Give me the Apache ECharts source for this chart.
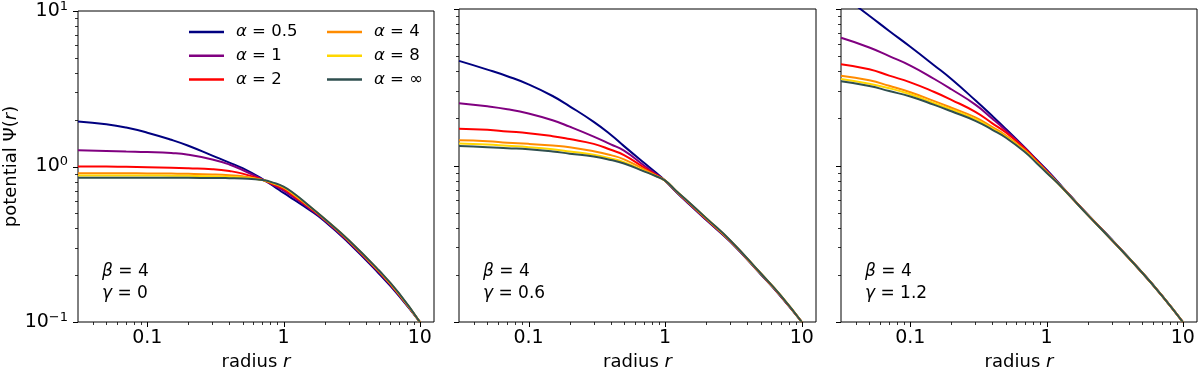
<!DOCTYPE html>
<html>
<head>
<meta charset="utf-8">
<style>
  body, html { margin: 0; background: #fff; }
  #main { width: 1200px; height: 376px; }
</style>
<script src="https://cdn.jsdelivr.net/npm/echarts@6/dist/echarts.min.js"></script>
</head>
<body>
<div id="main"></div>
<script>
// radius grid the curves were read at
const radius = [0.031, 0.05, 0.07, 0.1, 0.15, 0.2, 0.3, 0.4, 0.5, 0.7, 0.85, 1, 1.2, 1.5, 2, 3, 5, 7, 10];

const alphaNames = ['α = 0.5', 'α = 1', 'α = 2', 'α = 4', 'α = 8', 'α = ∞'];
const gammaValues = ['0', '0.6', '1.2'];

// potential Psi(r), one row per alpha (0.5, 1, 2, 4, 8, inf)
const psiGamma0 = [
  [1.95, 1.87, 1.78, 1.65, 1.485, 1.36, 1.175, 1.06, 0.975, 0.83, 0.745, 0.676, 0.61, 0.536, 0.445, 0.323, 0.205, 0.148, 0.1],
  [1.27, 1.26, 1.25, 1.24, 1.22, 1.19, 1.11, 1.03, 0.95, 0.825, 0.755, 0.70, 0.628, 0.548, 0.452, 0.328, 0.209, 0.15, 0.1],
  [1.0, 1.0, 0.995, 0.99, 0.983, 0.975, 0.96, 0.935, 0.9, 0.82, 0.765, 0.718, 0.643, 0.557, 0.456, 0.332, 0.211, 0.151, 0.1],
  [0.906, 0.905, 0.904, 0.903, 0.9, 0.897, 0.889, 0.879, 0.865, 0.818, 0.775, 0.731, 0.655, 0.564, 0.459, 0.335, 0.213, 0.152, 0.1],
  [0.875, 0.875, 0.875, 0.874, 0.873, 0.871, 0.866, 0.859, 0.85, 0.818, 0.78, 0.736, 0.662, 0.567, 0.46, 0.336, 0.214, 0.153, 0.1],
  [0.845, 0.845, 0.845, 0.845, 0.845, 0.845, 0.844, 0.841, 0.837, 0.818, 0.785, 0.742, 0.668, 0.57, 0.461, 0.337, 0.215, 0.154, 0.1]
];
const psiGamma06 = [
  [4.66, 4.1, 3.72, 3.3, 2.78, 2.39, 1.90, 1.573, 1.33, 1.04, 0.905, 0.80, 0.68, 0.565, 0.448, 0.325, 0.202, 0.146, 0.1],
  [2.50, 2.39, 2.29, 2.15, 1.945, 1.77, 1.53, 1.365, 1.245, 1.0, 0.885, 0.80, 0.683, 0.569, 0.452, 0.327, 0.203, 0.147, 0.1],
  [1.72, 1.69, 1.65, 1.61, 1.54, 1.475, 1.375, 1.26, 1.165, 0.97, 0.875, 0.80, 0.686, 0.573, 0.455, 0.329, 0.204, 0.147, 0.1],
  [1.45, 1.43, 1.40, 1.375, 1.34, 1.31, 1.235, 1.165, 1.095, 0.945, 0.865, 0.80, 0.688, 0.577, 0.458, 0.33, 0.204, 0.148, 0.1],
  [1.38, 1.36, 1.335, 1.31, 1.27, 1.23, 1.17, 1.11, 1.05, 0.925, 0.86, 0.80, 0.689, 0.579, 0.46, 0.331, 0.205, 0.148, 0.1],
  [1.33, 1.31, 1.29, 1.27, 1.23, 1.19, 1.14, 1.085, 1.03, 0.918, 0.857, 0.80, 0.69, 0.58, 0.461, 0.332, 0.205, 0.148, 0.1]
];
const psiGamma12 = [
  [12.4, 9.06, 7.24, 5.74, 4.36, 3.57, 2.61, 2.07, 1.72, 1.29, 1.085, 0.94, 0.79, 0.638, 0.487, 0.338, 0.208, 0.148, 0.1],
  [6.55, 5.68, 5.0, 4.35, 3.57, 3.07, 2.45, 1.99, 1.68, 1.28, 1.075, 0.93, 0.785, 0.636, 0.486, 0.336, 0.208, 0.148, 0.1],
  [4.44, 4.12, 3.75, 3.40, 2.95, 2.63, 2.20, 1.86, 1.63, 1.27, 1.07, 0.92, 0.78, 0.634, 0.485, 0.335, 0.208, 0.148, 0.1],
  [3.74, 3.50, 3.23, 2.94, 2.58, 2.34, 2.03, 1.76, 1.56, 1.24, 1.05, 0.91, 0.777, 0.633, 0.485, 0.335, 0.208, 0.148, 0.1],
  [3.57, 3.33, 3.12, 2.85, 2.50, 2.28, 1.98, 1.72, 1.53, 1.22, 1.04, 0.905, 0.776, 0.632, 0.484, 0.335, 0.208, 0.148, 0.1],
  [3.45, 3.22, 2.99, 2.76, 2.44, 2.22, 1.93, 1.69, 1.51, 1.21, 1.03, 0.90, 0.775, 0.632, 0.484, 0.335, 0.208, 0.148, 0.1]
];

const xMajorTicks = [0.1, 1, 10];
const xMinorTicks = [0.04, 0.05, 0.06, 0.07, 0.08, 0.09, 0.2, 0.3, 0.4, 0.5, 0.6, 0.7, 0.8, 0.9, 2, 3, 4, 5, 6, 7, 8, 9];
const yMajorTicks = [0.1, 1, 10];
const yMinorTicks = [0.2, 0.3, 0.4, 0.5, 0.6, 0.7, 0.8, 0.9, 2, 3, 4, 5, 6, 7, 8, 9];

const colors = ['#000080', '#800080', '#ff0000', '#ff8c00', '#ffd700', '#2f4f4f'];
const X_MIN = 0.031, X_MAX = 12.7, Y_MIN = 0.1, Y_MAX = 10;
const gridLefts = [78, 459, 841];
const gridWidths = [356, 357, 356];
const FONT = 'DejaVu Sans';

const chart = echarts.init(document.getElementById('main'), null, { renderer: 'canvas' });

function isPow10(v) {
  const e = Math.round(Math.log10(v));
  return Math.abs(Math.log10(v) - e) < 1e-6 ? e : null;
}

// matplotlib style outward ticks, drawn through the axis scales
function tickSeries(i, values, major, isX) {
  return {
    type: 'custom', xAxisIndex: i, yAxisIndex: i, silent: true, clip: false, z: 10,
    data: values.map(v => isX ? [v, Y_MIN] : [X_MIN, v]),
    renderItem: (params, api) => {
      const p = api.coord([api.value(0), api.value(1)]);
      const len = major ? 5 : 3;
      const style = { stroke: '#000', lineWidth: major ? 1 : 0.8 };
      if (isX) {
        const x = Math.round(p[0]) + 0.5;
        return { type: 'line', shape: { x1: x, y1: p[1], x2: x, y2: p[1] + len }, style };
      }
      const y = Math.round(p[1]) + 0.5;
      return { type: 'line', shape: { x1: p[0] - len, y1: y, x2: p[0], y2: y }, style };
    }
  };
}

const series = [];
[psiGamma0, psiGamma06, psiGamma12].forEach((panel, i) => {
  panel.forEach((vals, k) => {
    series.push({
      name: alphaNames[k], type: 'line', xAxisIndex: i, yAxisIndex: i,
      data: radius.map((r, j) => [r, vals[j]]),
      symbol: 'none', smooth: 0.5, z: 2 + k,
      lineStyle: { width: 2, color: colors[k] },
      itemStyle: { color: colors[k] }
    });
  });
  series.push(tickSeries(i, xMajorTicks, true, true));
  series.push(tickSeries(i, xMinorTicks, false, true));
  series.push(tickSeries(i, yMajorTicks, true, false));
  series.push(tickSeries(i, yMinorTicks, false, false));
});

const legendBase = {
  orient: 'vertical', top: 22, padding: 0, itemWidth: 35, itemHeight: 2.5, itemGap: 3.7, icon: 'rect',
  formatter: n => '{g|α}{t|' + n.slice(1) + '}',
  textStyle: {
    fontFamily: FONT, fontSize: 16.5, color: '#000', lineHeight: 20, padding: [0, 0, 0, 7],
    rich: {
      g: { fontFamily: FONT, fontSize: 16.5, fontStyle: 'italic', lineHeight: 20, color: '#000' },
      t: { fontFamily: FONT, fontSize: 16.5, lineHeight: 20, color: '#000' }
    }
  }
};

const option = {
  animation: false,
  textStyle: { fontFamily: FONT },
  legend: [
    Object.assign({}, legendBase, { left: 189, data: alphaNames.slice(0, 3) }),
    Object.assign({}, legendBase, { left: 327, data: alphaNames.slice(3) })
  ],
  grid: gridLefts.map((l, i) => ({
    left: l, top: 9, width: gridWidths[i], height: 316,
    show: true, borderColor: '#000', borderWidth: 1, backgroundColor: 'transparent'
  })),
  xAxis: gridLefts.map((l, i) => ({
    type: 'log', logBase: 10, gridIndex: i, min: X_MIN, max: X_MAX,
    axisLine: { show: false }, axisTick: { show: false }, splitLine: { show: false },
    axisLabel: {
      margin: 7, fontSize: 19, color: '#000', fontFamily: FONT,
      formatter: v => { const e = isPow10(v); return e === null ? '' : (e < 0 ? '0.1' : String(Math.pow(10, e))); }
    },
    name: 'radius {i|r}', nameLocation: 'middle', nameGap: 31,
    nameTextStyle: {
      fontSize: 18, color: '#000', fontFamily: FONT,
      rich: { i: { fontSize: 18, fontStyle: 'italic', fontFamily: FONT, color: '#000' } }
    }
  })),
  yAxis: gridLefts.map((l, i) => ({
    type: 'log', logBase: 10, gridIndex: i, min: Y_MIN, max: Y_MAX,
    axisLine: { show: false }, axisTick: { show: false }, splitLine: { show: false },
    axisLabel: {
      show: i === 0, margin: 10, color: '#000', fontFamily: FONT,
      formatter: v => {
        const e = isPow10(v);
        if (e === null) return '';
        return '{b|10}{s|' + (e < 0 ? '−' + (-e) : e) + '}';
      },
      rich: {
        b: { fontSize: 19, lineHeight: 22, fontFamily: FONT, color: '#000' },
        s: { fontSize: 13, lineHeight: 13, verticalAlign: 'top', fontFamily: FONT, color: '#000' }
      }
    },
    name: i === 0 ? 'potential Ψ({i|r})' : '', nameLocation: 'middle', nameGap: 55,
    nameTextStyle: {
      fontSize: 18, color: '#000', fontFamily: FONT,
      rich: { i: { fontSize: 18, fontStyle: 'italic', fontFamily: FONT, color: '#000' } }
    }
  })),
  graphic: gammaValues.map((g, i) => ({
    type: 'text', left: gridLefts[i] + 24, top: 261, z: 20,
    style: {
      text: '{g|β} = 4\n{g|γ} = ' + g,
      font: '17px "DejaVu Sans"', fill: '#000', lineHeight: 21.6,
      rich: { g: { fontFamily: FONT, fontSize: 17, fontStyle: 'italic', lineHeight: 21.6 } }
    }
  })),
  series: series
};

chart.setOption(option);
</script>
</body>
</html>
